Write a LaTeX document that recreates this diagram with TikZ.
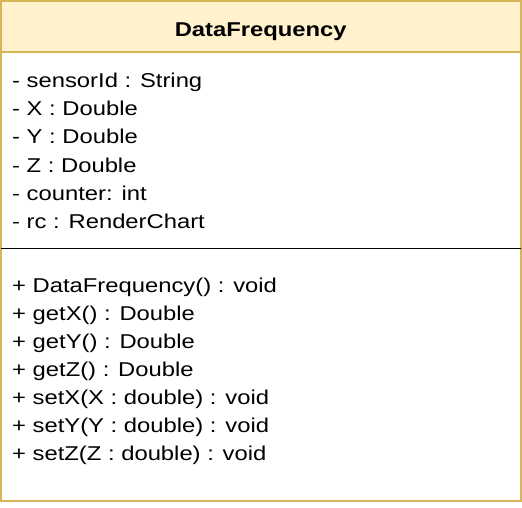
\documentclass[tikz,border=0pt]{standalone}
\usepackage{fontspec}
\setmainfont[FakeStretch=1.19]{Liberation Sans}
\definecolor{headfill}{HTML}{FFF2CC}
\definecolor{headline}{HTML}{D6B656}
\begin{document}
\begin{tikzpicture}[x=1pt, y=-1pt,
	member/.style={anchor=base west, inner sep=0pt, font=\fontsize{20}{24}\selectfont},
	title/.style={anchor=base, inner sep=0pt, font=\fontsize{20}{24}\selectfont\bfseries},
	frame/.style={draw=headline, line width=2pt}]
	\useasboundingbox (0,0) rectangle (522,508);
	% class box
	\fill[headfill] (1,1) rectangle (520.5,52.3);
	\draw[frame] (1,1) rectangle (520.5,500.7);
	\draw[frame] (1,52.3) -- (520.5,52.3);
	\draw[line width=1.5pt] (1,248.5) -- (520.5,248.5);
	\node[title] (cls) at (260.75,36.7) {DataFrequency};
	% attributes
	\foreach \txt [count=\i] in {- sensorId : String, - X : Double, - Y : Double,
	  - Z : Double, - counter: int, - rc : RenderChart}{
	    \node[member] (attr\i) at (12, 60+28*\i) {\txt};
	}
	% methods
	\foreach \txt [count=\i] in {+ DataFrequency() : void, + getX() : Double,
	  + getY() : Double, + getZ() : Double, + setX(X : double) : void,
	  + setY(Y : double) : void, + setZ(Z : double) : void}{
	    \node[member] (meth\i) at (12, 264+28*\i) {\txt};
	}
\end{tikzpicture}
\end{document}
